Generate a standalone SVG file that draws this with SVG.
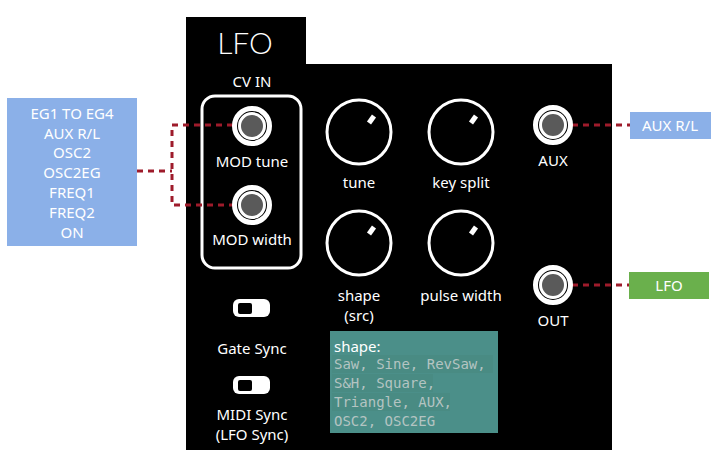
<svg xmlns="http://www.w3.org/2000/svg" width="717" height="455" viewBox="0 0 717 455">
<style>
.t{font-family:"Noto Sans","Liberation Sans",sans-serif;font-size:15px;fill:#fff;text-anchor:middle}
.m{font-family:"DejaVu Sans Mono","Liberation Mono",monospace;font-size:14px;fill:#b4c4c2}
.dash{fill:none;stroke:#9e1b2b;stroke-width:3;stroke-dasharray:6 5}
.knob{fill:none;stroke:#fff;stroke-width:3}
.ind{stroke:#fff;stroke-width:5}
</style>
<defs>
<g id="jack">
<circle r="17.5" fill="#000" stroke="#fff" stroke-width="5"/>
<circle r="12.5" fill="#5a5a5a" stroke="#fff" stroke-width="3"/>
</g>
<g id="sw">
<rect x="0" y="0" width="37" height="18" rx="6" fill="#fff"/>
<rect x="5" y="4" width="14" height="11" rx="2" fill="#000"/>
</g>
<g id="knob">
<circle r="32" class="knob"/>
<line x1="10" y1="-9" x2="15" y2="-16" class="ind"/>
</g>
</defs>
<rect width="717" height="455" fill="#fff"/>
<g id="panel">
<rect x="186" y="17" width="120" height="50" fill="#000"/>
<rect x="186" y="64" width="426" height="386" fill="#000"/>
<text x="245" y="54" class="t" style="font-size:30px;font-family:Lato,'Noto Sans',sans-serif;font-weight:300">LFO</text>
<text x="252" y="87" class="t">CV IN</text>
<rect x="202" y="96" width="99" height="172" rx="13" fill="none" stroke="#fff" stroke-width="3"/>
</g>
<g id="connectors">
<polyline class="dash" points="137,171 172,171"/>
<polyline class="dash" points="233,125 172,125 172,205 233,205"/>
<line class="dash" x1="572" y1="125" x2="630" y2="125"/>
<line class="dash" x1="572" y1="285" x2="629" y2="285"/>
</g>
<g id="inputs">
<rect x="7" y="98" width="130" height="148" fill="#8bb0e8"/>
<text class="t" x="72" y="119">EG1 TO EG4</text>
<text class="t" x="72" y="139">AUX R/L</text>
<text class="t" x="72" y="158">OSC2</text>
<text class="t" x="72" y="178">OSC2EG</text>
<text class="t" x="72" y="198">FREQ1</text>
<text class="t" x="72" y="218">FREQ2</text>
<text class="t" x="72" y="238">ON</text>
</g>
<g id="mod-tune">
<use href="#jack" x="252" y="126"/>
<text class="t" x="252" y="167">MOD tune</text>
</g>
<g id="mod-width">
<use href="#jack" x="252" y="205"/>
<text class="t" x="252" y="245">MOD width</text>
</g>
<g id="tune">
<use href="#knob" x="359" y="132"/>
<text class="t" x="359" y="188">tune</text>
</g>
<g id="key-split">
<use href="#knob" x="461" y="132"/>
<text class="t" x="461" y="188">key split</text>
</g>
<g id="shape">
<use href="#knob" x="359" y="243"/>
<text class="t" x="359" y="301">shape</text>
<text class="t" x="359" y="321">(src)</text>
</g>
<g id="pulse-width">
<use href="#knob" x="461" y="243"/>
<text class="t" x="461" y="301">pulse width</text>
</g>
<g id="shape-note">
<rect x="330" y="331" width="168" height="102" fill="#4b8f89"/>
<rect x="332" y="355" width="161" height="18" fill="#47887f" opacity="0.6"/>
<rect x="332" y="374" width="101" height="18" fill="#47887f" opacity="0.6"/>
<rect x="332" y="393" width="118" height="18" fill="#47887f" opacity="0.6"/>
<text x="334" y="352" class="t" style="text-anchor:start">shape:</text>
<text class="m" x="334" y="369">Saw, Sine, RevSaw,</text>
<text class="m" x="334" y="388">S&amp;H, Square,</text>
<text class="m" x="334" y="407">Triangle, AUX,</text>
<text class="m" x="334" y="426">OSC2, OSC2EG</text>
</g>
<g id="gate-sync">
<use href="#sw" x="233" y="299"/>
<text class="t" x="252" y="354">Gate Sync</text>
</g>
<g id="midi-sync">
<use href="#sw" x="233" y="376"/>
<text class="t" x="252" y="420">MIDI Sync</text>
<text class="t" x="252" y="440">(LFO Sync)</text>
</g>
<g id="aux">
<use href="#jack" x="553" y="125"/>
<text class="t" x="553" y="166">AUX</text>
</g>
<g id="out">
<use href="#jack" x="553" y="285"/>
<text class="t" x="553" y="326">OUT</text>
</g>
<g id="aux-rl">
<rect x="630" y="112" width="81" height="27" fill="#8bb0e8"/>
<text class="t" x="670" y="131">AUX R/L</text>
</g>
<g id="lfo-out">
<rect x="629" y="272" width="80" height="27" fill="#6ab04c"/>
<text class="t" x="669" y="291">LFO</text>
</g>
</svg>
